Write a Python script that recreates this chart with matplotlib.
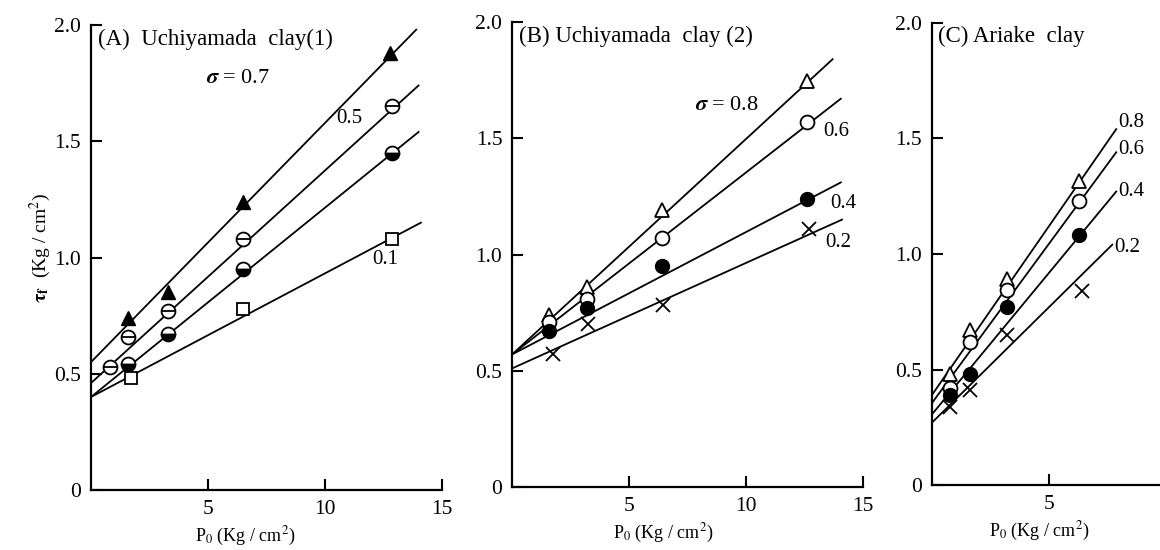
import matplotlib.pyplot as plt
import numpy as np

plt.rcParams['font.family'] = ['Liberation Serif', 'DejaVu Serif']
plt.rcParams['mathtext.fontset'] = 'stix'

# ---------------- data ----------------
# (A) Uchiyamada clay (1)
a_x = [1.6, 3.3, 6.5, 12.8]
a_s07 = [0.74, 0.85, 1.24, 1.88]
a_s05_x = [0.8, 1.6, 3.3, 6.5, 12.85]
a_s05 = [0.53, 0.66, 0.77, 1.08, 1.65]
a_s03_x = [1.6, 3.3, 6.5, 12.85]
a_s03 = [0.54, 0.67, 0.95, 1.45]
a_s01_x = [1.7, 6.5, 12.85]
a_s01 = [0.48, 0.78, 1.08]
# fitted lines: (y at P0=0, P0 at end, y at end)
a_lines = [(0.55, 13.9, 1.98), (0.46, 14.0, 1.74), (0.40, 14.0, 1.54), (0.40, 14.1, 1.15)]

# (B) Uchiyamada clay (2)
b_x = [1.6, 3.2, 6.4, 12.6]
b_s08 = [0.74, 0.86, 1.19, 1.745]
b_s06 = [0.71, 0.81, 1.07, 1.57]
b_s04 = [0.67, 0.77, 0.95, 1.24]
b_s02_x = [1.75, 3.25, 6.45, 12.7]
b_s02 = [0.57, 0.70, 0.785, 1.11]
b_lines = [(0.57, 13.7, 1.84), (0.57, 14.05, 1.67), (0.57, 14.05, 1.31), (0.51, 14.1, 1.15)]

# (C) Ariake clay
c_x = [0.77, 1.62, 3.2, 6.3]
c_s08 = [0.48, 0.67, 0.89, 1.315]
c_s06 = [0.42, 0.62, 0.845, 1.23]
c_s04 = [0.39, 0.48, 0.77, 1.08]
c_s02_x = [0.77, 1.62, 3.2, 6.4]
c_s02 = [0.34, 0.41, 0.65, 0.84]
c_lines = [(0.39, 7.87, 1.54), (0.355, 7.87, 1.44), (0.306, 7.87, 1.27), (0.27, 7.7, 1.04)]
c_labels = ['0.8', '0.6', '0.4', '0.2']
c_label_y = [1.57, 1.45, 1.27, 1.03]

y_ticks = [0, 0.5, 1.0, 1.5, 2.0]
y_ticklabels = ['0', '0.5', '1.0', '1.5', '2.0']

fig = plt.figure(figsize=(11.6, 5.5), dpi=100)
ax_a = fig.add_axes([0.0784, 0.109, 0.3026, 0.8455])
ax_b = fig.add_axes([0.4414, 0.1145, 0.3026, 0.8455])
ax_c = fig.add_axes([0.8034, 0.118, 0.1966, 0.8405])

ms = 10
mew = 1.3
fs = 15


def style(ax, xmax, xticks):
    ax.set_xlim(0, xmax)
    ax.set_ylim(0, 2.0)
    ax.spines['top'].set_visible(False)
    ax.spines['right'].set_visible(False)
    ax.spines['left'].set_linewidth(1.6)
    ax.spines['bottom'].set_linewidth(1.6)
    ax.set_yticks(y_ticks)
    ax.set_yticklabels(y_ticklabels)
    ax.set_xticks(xticks)
    ax.tick_params(direction='in', length=8, width=1.5, labelsize=15.5, pad=7)
    ax.set_xlabel(r'P$_0$ (Kg / cm$^2$)', fontsize=13)
    ax.patch.set_alpha(0)


def draw_lines(ax, lines):
    for y0, x1, y1 in lines:
        ax.plot([0, x1], [y0, y1], color='black', lw=1.3, zorder=1)


# ---- (A) ----
draw_lines(ax_a, a_lines)
ax_a.plot(a_x, a_s07, '^', color='black', ms=ms, zorder=3)
ax_a.plot(a_s05_x, a_s05, 'o', mfc='white', mec='black', mew=mew, ms=ms, zorder=3)
ax_a.plot(a_s05_x, a_s05, '_', color='black', mew=mew, ms=ms, zorder=4)
ax_a.plot(a_s03_x, a_s03, 'o', fillstyle='bottom', mfc='black', mfcalt='white',
          mec='black', mew=mew, ms=ms, zorder=3)
ax_a.plot(a_s01_x, a_s01, 's', mfc='white', mec='black', mew=mew, ms=8, zorder=3)
style(ax_a, 15, [5, 10, 15])
ax_a.text(0.3, 1.94, '(A)  Uchiyamada  clay(1)', fontsize=16.5, va='center')
ax_a.text(4.9, 1.77, r'$\boldsymbol{\sigma}$ = 0.7', fontsize=16, va='center')
ax_a.text(10.5, 1.60, '0.5', fontsize=fs, va='center')
ax_a.text(12.0, 0.99, '0.1', fontsize=fs, va='center')
ax_a.xaxis.set_label_coords(0.44, -0.075)

# ---- (B) ----
draw_lines(ax_b, b_lines)
ax_b.plot(b_x, b_s08, '^', mfc='white', mec='black', mew=mew, ms=ms, zorder=3)
ax_b.plot(b_x, b_s06, 'o', mfc='white', mec='black', mew=mew, ms=ms, zorder=3)
ax_b.plot(b_x, b_s04, 'o', color='black', ms=ms, zorder=3)
ax_b.plot(b_s02_x, b_s02, 'x', color='black', mew=mew, ms=ms, zorder=3)
style(ax_b, 15, [5, 10, 15])
ax_b.text(0.3, 1.94, '(B) Uchiyamada  clay (2)', fontsize=16.5, va='center')
ax_b.text(7.8, 1.64, r'$\boldsymbol{\sigma}$ = 0.8', fontsize=16, va='center')
ax_b.text(13.3, 1.53, '0.6', fontsize=fs, va='center')
ax_b.text(13.6, 1.22, '0.4', fontsize=fs, va='center')
ax_b.text(13.4, 1.05, '0.2', fontsize=fs, va='center')
ax_b.xaxis.set_label_coords(0.43, -0.075)

# ---- (C) ----
draw_lines(ax_c, c_lines)
ax_c.plot(c_x, c_s08, '^', mfc='white', mec='black', mew=mew, ms=ms, zorder=3)
ax_c.plot(c_x, c_s06, 'o', mfc='white', mec='black', mew=mew, ms=ms, zorder=3)
ax_c.plot(c_x, c_s04, 'o', color='black', ms=ms, zorder=3)
ax_c.plot(c_s02_x, c_s02, 'x', color='black', mew=mew, ms=ms, zorder=3)
style(ax_c, 9.74, [5])
ax_c.text(0.25, 1.94, '(C) Ariake  clay', fontsize=16.5, va='center')
for (y0, x1, y1), lab, ly in zip(c_lines, c_labels, c_label_y):
    ax_c.text(x1 + 0.1, ly, lab, fontsize=fs, va='center')
ax_c.xaxis.set_label_coords(0.47, -0.075)

fig.text(0.035, 0.55, r'$\mathbf{\tau_f}$  (Kg / cm$^2$)', rotation=90,
         fontsize=14, ha='center', va='center')

fig.savefig('out.png', dpi=100)
